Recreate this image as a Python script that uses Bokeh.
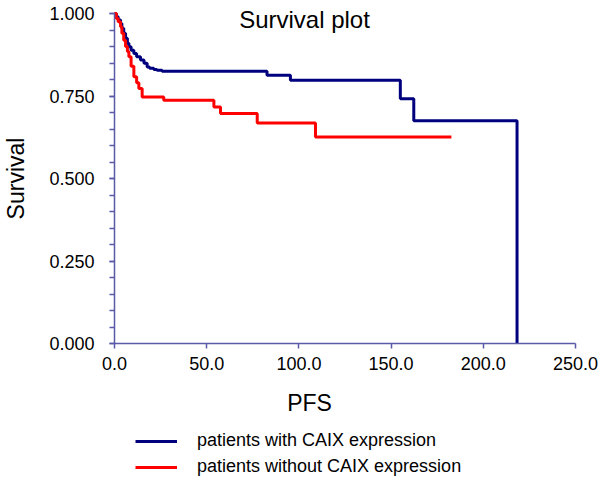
import math
from bokeh.plotting import figure
from bokeh.models import Range1d, FixedTicker, NumeralTickFormatter, Legend, LegendItem, Label
from bokeh.embed import file_html
from bokeh.resources import INLINE

# Data
blue_t = [0, 1, 2, 3.3, 4, 5, 6, 7, 7.8, 9, 10.5, 12, 14.1, 16, 17.7, 19, 21.3, 23, 25.8, 82.7, 95.4, 155, 162.3, 218.3]
blue_s = [1.0, 0.99, 0.98, 0.97, 0.955, 0.94, 0.925, 0.91, 0.899, 0.889, 0.879, 0.869, 0.859, 0.849, 0.838, 0.834, 0.830, 0.828, 0.825, 0.813, 0.798, 0.742, 0.675, 0.0]
red_t = [0, 1, 2, 3.3, 4, 5, 6, 7, 7.8, 9, 10.5, 12, 13.2, 15, 26.7, 53.9, 57.5, 77.4, 109, 182.7]
red_s = [1.0, 0.985, 0.975, 0.96, 0.94, 0.919, 0.9, 0.885, 0.869, 0.84, 0.808, 0.79, 0.773, 0.747, 0.737, 0.717, 0.697, 0.668, 0.626, 0.626]
x_ticks = [0, 50, 100, 150, 200, 250]
y_ticks = [0, 0.25, 0.5, 0.75, 1.0]
y_minor = [0.05 * i for i in range(21)]
series_names = ["patients with CAIX expression", "patients without CAIX expression"]

FONT = "Liberation Sans"
AXC = "#5a5aa8"

W, H = 600, 478
X0, X1 = 114, 575      # pixel columns of x = 0 and x = 250
Y1, Y0 = 13, 343       # pixel rows of y = 1 and y = 0
sx = (X1 - X0) / 250.0
sy = (Y0 - Y1) / 1.0

# the frame covers the whole canvas; the axes are pinned at x = 0 and y = 0
p = figure(width=W, height=H, output_backend="svg", toolbar_location=None,
           x_range=Range1d(-X0 / sx, (W - X0) / sx),
           y_range=Range1d(-(H - Y0) / sy, 1.0 + Y1 / sy),
           min_border=0, min_border_left=0, min_border_right=0,
           min_border_top=0, min_border_bottom=0)
p.outline_line_color = None
p.grid.visible = False
p.background_fill_color = "white"
p.border_fill_color = "white"

r_blue = p.step(blue_t, blue_s, mode="after", line_color="#00007f", line_width=3)
r_red = p.step(red_t, red_s, mode="after", line_color="#ff0000", line_width=3)

xa = p.xaxis[0]
xa.ticker = FixedTicker(ticks=x_ticks, minor_ticks=[])
xa.formatter = NumeralTickFormatter(format="0.0")
xa.fixed_location = 0
xa.bounds = (0, 250)
ya = p.yaxis[0]
ya.ticker = FixedTicker(ticks=y_ticks, minor_ticks=y_minor)
ya.formatter = NumeralTickFormatter(format="0.000")
ya.fixed_location = 0
ya.bounds = (0, 1)
for ax in (xa, ya):
    ax.axis_line_color = AXC
    ax.axis_line_width = 1.5
    ax.major_tick_line_color = AXC
    ax.minor_tick_line_color = AXC
    ax.major_tick_line_width = 1.5
    ax.minor_tick_line_width = 1.5
    ax.major_tick_out = 5
    ax.major_tick_in = 0
    ax.minor_tick_out = 5
    ax.minor_tick_in = 0
    ax.major_label_text_font = FONT
    ax.major_label_text_font_size = "18px"
    ax.major_label_text_color = "black"
xa.major_label_standoff = 8
ya.major_label_standoff = 15

# chart title
p.add_layout(Label(x=304, y=H - 19, x_units="screen", y_units="screen", text="Survival plot",
                   text_font=FONT, text_font_size="24px", text_align="center",
                   text_baseline="alphabetic", text_color="black"))
# x axis title
p.add_layout(Label(x=309, y=H - 402, x_units="screen", y_units="screen", text="PFS",
                   text_font=FONT, text_font_size="23px", text_align="center",
                   text_baseline="alphabetic", text_color="black"))
# y axis title
p.add_layout(Label(x=15, y=H - 178, x_units="screen", y_units="screen", text="Survival",
                   angle=math.pi / 2, text_font=FONT, text_font_size="23px",
                   text_align="center", text_baseline="alphabetic", text_color="black"))

legend = Legend(items=[LegendItem(label=series_names[0], renderers=[r_blue]),
                       LegendItem(label=series_names[1], renderers=[r_red])],
                location=(135, 1), orientation="vertical",
                padding=0, margin=0, spacing=5, glyph_width=42, glyph_height=18,
                label_height=18, label_standoff=20,
                label_text_font=FONT, label_text_font_size="18px", label_text_color="black",
                background_fill_alpha=0, border_line_color=None)
p.add_layout(legend, "center")

open("out.html", "w").write(file_html(p, INLINE))
